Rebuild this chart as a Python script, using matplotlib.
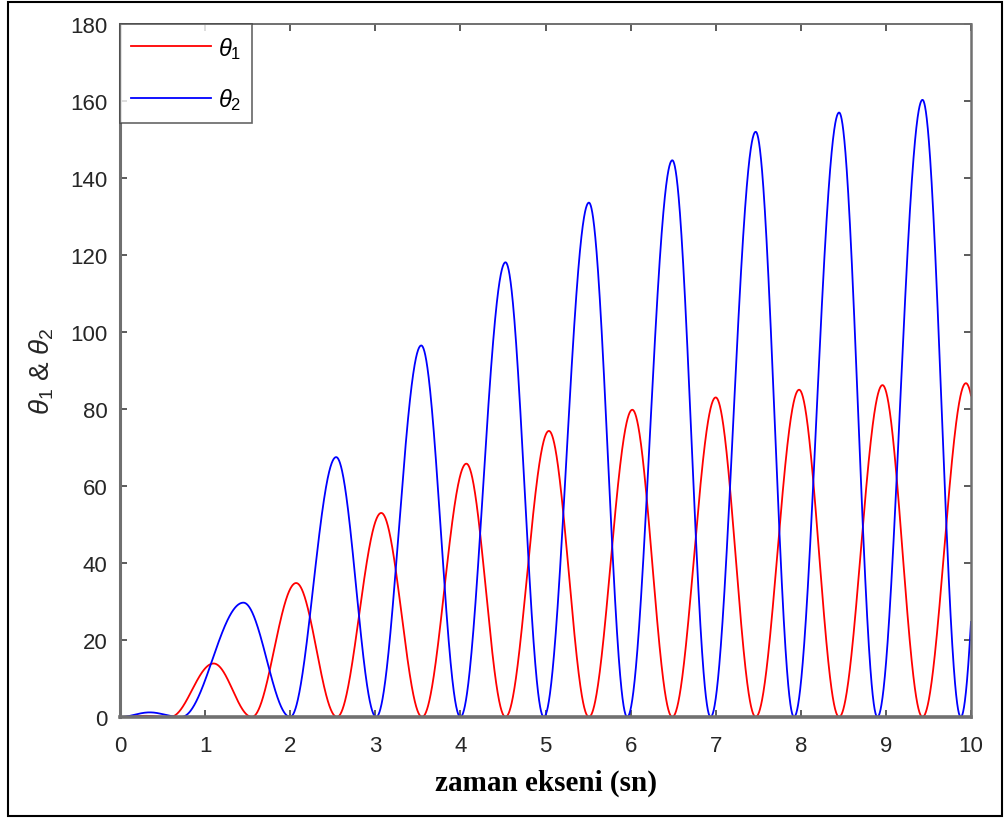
import numpy as np
import matplotlib
matplotlib.use("Agg")
import matplotlib.pyplot as plt
from matplotlib.patches import Rectangle

# ---- data (humps between zero-touches) ----
red_start  = [0.00, 0.59, 1.55, 2.55, 3.55, 4.53, 5.51, 6.49, 7.47, 8.45, 9.43]
red_peak_t = [0.30, 1.10, 2.07, 3.07, 4.07, 5.04, 6.02, 7.00, 7.98, 8.96, 9.94]
red_peak_v = [0.3, 13.9, 34.8, 53.0, 65.8, 74.3, 79.8, 83.0, 85.0, 86.2, 86.7]
red_end    = [0.59, 1.55, 2.55, 3.55, 4.53, 5.51, 6.49, 7.47, 8.45, 9.43, 10.43]

blue_start  = [0.00, 0.72, 2.00, 3.01, 4.00, 4.98, 5.96, 6.94, 7.92, 8.90, 9.88]
blue_peak_t = [0.35, 1.45, 2.54, 3.54, 4.53, 5.51, 6.49, 7.47, 8.45, 9.43, 10.35]
blue_peak_v = [1.2, 29.7, 67.5, 96.5, 118.1, 133.6, 144.6, 152.0, 157.0, 160.3, 162.0]
blue_end    = [0.70, 2.00, 3.01, 4.00, 4.98, 5.96, 6.94, 7.92, 8.90, 9.88, 10.85]

x_ticks = list(range(0, 11))
y_ticks = list(range(0, 181, 20))
labels = [r'$\theta_1$', r'$\theta_2$']
xlabel = 'zaman ekseni (sn)'
ylabel = r'$\theta_1$ & $\theta_2$'


def build(starts, pts, pvs, ends, t):
    y = np.zeros_like(t)
    for s, pt, pv, e in zip(starts, pts, pvs, ends):
        m1 = (t >= s) & (t <= pt)
        y[m1] = pv * (1 - np.cos(np.pi * (t[m1] - s) / (pt - s))) / 2
        m2 = (t > pt) & (t <= e)
        y[m2] = pv * (1 + np.cos(np.pi * (t[m2] - pt) / (e - pt))) / 2
    return y


t = np.linspace(0, 10, 4001)
th1 = build(red_start, red_peak_t, red_peak_v, red_end, t)
th2 = build(blue_start, blue_peak_t, blue_peak_v, blue_end, t)

plt.rcParams['font.family'] = ['Liberation Sans', 'DejaVu Sans']
plt.rcParams['mathtext.fontset'] = 'custom'
plt.rcParams['mathtext.it'] = 'Liberation Sans:italic'
plt.rcParams['mathtext.rm'] = 'Liberation Sans'

fig = plt.figure(figsize=(10.05, 8.2), dpi=100)
ax = fig.add_axes([120 / 1005, 102 / 820, (971 - 120) / 1005, (718 - 25) / 820])

ax.plot(t, th1, color='#ff0000', lw=1.3, label=labels[0])
ax.plot(t, th2, color='#0000ff', lw=1.3, label=labels[1])

ax.set_xlim(0, 10)
ax.set_ylim(0, 180)
ax.set_xticks(x_ticks)
ax.set_yticks(y_ticks)

axcol = '#707070'
txtcol = '#262626'
for side, lw in [('bottom', 2.6), ('left', 2.2), ('top', 1.4), ('right', 1.8)]:
    ax.spines[side].set_color(axcol)
    ax.spines[side].set_linewidth(lw)
ax.tick_params(direction='in', length=5, width=1.2, color='#404040',
               top=True, right=True, labelsize=16, labelcolor=txtcol)
ax.tick_params(axis='x', pad=13)
ax.tick_params(axis='y', pad=9)

ax.set_xlabel(xlabel, fontsize=21, fontweight='bold', family='Liberation Serif',
              color='black', labelpad=9)
ax.set_ylabel(ylabel, fontsize=20, color=txtcol, labelpad=10)

leg = ax.legend(loc='upper left', fontsize=17, frameon=True, fancybox=False,
                borderaxespad=0.0, handlelength=3.4, labelspacing=1.1,
                handletextpad=0.3, borderpad=0.45)
leg.get_frame().set_edgecolor('#404040')
leg.get_frame().set_linewidth(1.2)

fig.patches.append(Rectangle((8 / 1005, 3 / 820), 994 / 1005, 814 / 820,
                             transform=fig.transFigure, fill=False,
                             edgecolor='black', lw=1.5))

fig.savefig('out.png', dpi=100)
